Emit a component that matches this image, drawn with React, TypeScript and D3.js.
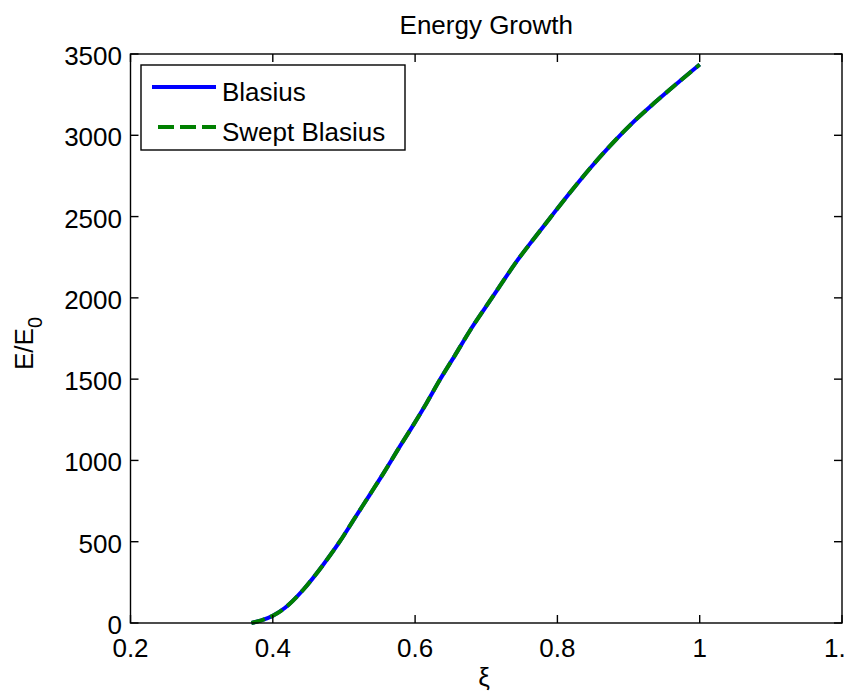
import React from "react";
import * as d3 from "d3";

const xiValues = [0.37, 0.384, 0.4, 0.4168, 0.4425, 0.4706, 0.494, 0.515, 0.536, 0.557, 0.576, 0.597, 0.616, 0.634, 0.656, 0.677, 0.698, 0.719, 0.742, 0.768, 0.791, 0.817, 0.843, 0.873, 0.903, 0.936, 0.969, 1.0];
const blasiusE = [0, 16, 45, 92, 203, 357, 500, 644, 787, 931, 1068, 1214, 1352, 1490, 1646, 1798, 1936, 2072, 2220, 2370, 2499, 2643, 2782, 2930, 3066, 3198, 3322, 3435];
const sweptE = [0, 16, 45, 92, 203, 357, 500, 644, 787, 931, 1068, 1214, 1352, 1490, 1646, 1798, 1936, 2072, 2220, 2370, 2499, 2643, 2782, 2930, 3066, 3198, 3322, 3435];
const xTicks = [0.2, 0.4, 0.6, 0.8, 1, 1.2];
const xTickLabels = ["0.2", "0.4", "0.6", "0.8", "1", "1.2"];
const yTicks = [0, 500, 1000, 1500, 2000, 2500, 3000, 3500];
const seriesNames = ["Blasius", "Swept Blasius"];

const W = 845, H = 695;
const L = 130.5, R = 842, T = 54, B = 623;
const FONT = "'Liberation Sans', Arial, Helvetica, sans-serif";
const FS = 26;
const TICK = 8;

export default function App() {
  const x = d3.scaleLinear().domain([0.2, 1.2]).range([L, R]);
  const y = d3.scaleLinear().domain([0, 3500]).range([B, T]);
  const line = d3.line<number>()
    .x((_, i) => x(xiValues[i]))
    .y((d) => y(d))
    .curve(d3.curveMonotoneX);

  return (
    <svg width={W} height={H} style={{ position: "absolute", left: 0, top: 0, background: "#fff" }} fontFamily={FONT}>
      <rect x={0} y={0} width={W} height={H} fill="#fff" />
      {/* curves */}
      <path d={line(blasiusE) || ""} fill="none" stroke="#0000ff" strokeWidth={4} />
      <path d={line(sweptE) || ""} fill="none" stroke="#008000" strokeWidth={4} strokeDasharray="14,6" />
      {/* axes box */}
      <rect x={L} y={T} width={R - L} height={B - T} fill="none" stroke="#000" strokeWidth={1.4} />
      {xTicks.map((t, i) => (
        <g key={"x" + i}>
          <line x1={x(t)} x2={x(t)} y1={B} y2={B - TICK} stroke="#000" strokeWidth={1.4} />
          <line x1={x(t)} x2={x(t)} y1={T} y2={T + TICK} stroke="#000" strokeWidth={1.4} />
          <text x={x(t)} y={657} fontSize={FS} textAnchor="middle" fill="#000">{xTickLabels[i]}</text>
        </g>
      ))}
      {yTicks.map((t, i) => (
        <g key={"y" + i}>
          <line x1={L} x2={L + TICK} y1={y(t)} y2={y(t)} stroke="#000" strokeWidth={1.4} />
          <line x1={R} x2={R - TICK} y1={y(t)} y2={y(t)} stroke="#000" strokeWidth={1.4} />
          <text x={122} y={y(t) + 11} fontSize={FS} textAnchor="end" fill="#000">{String(t)}</text>
        </g>
      ))}
      {/* title */}
      <text x={(L + R) / 2} y={34} fontSize={FS} textAnchor="middle" fill="#000">Energy Growth</text>
      {/* x label */}
      <text x={484} y={686} fontSize={FS} textAnchor="middle" fill="#000">ξ</text>
      {/* y label */}
      <text transform={`translate(33, ${(T + B) / 2 + 5}) rotate(-90)`} fontSize={FS} textAnchor="middle" fill="#000">
        E/E<tspan fontSize={20} dy={9}>0</tspan>
      </text>
      {/* legend */}
      <rect x={141} y={65} width={264} height={85} fill="#fff" stroke="#000" strokeWidth={1.4} />
      <line x1={152} x2={216} y1={87} y2={87} stroke="#0000ff" strokeWidth={4} />
      <text x={222} y={100.5} fontSize={FS} fill="#000">{seriesNames[0]}</text>
      <line x1={158} x2={216} y1={127} y2={127} stroke="#008000" strokeWidth={4} strokeDasharray="16,6" />
      <text x={222} y={141} fontSize={FS} fill="#000">{seriesNames[1]}</text>
    </svg>
  );
}
